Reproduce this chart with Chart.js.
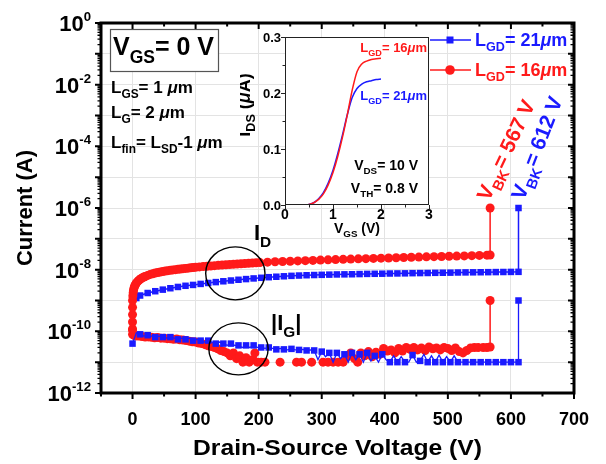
<!doctype html>
<html lang="en">
<head>
<meta charset="utf-8">
<title>Breakdown current vs drain-source voltage</title>
<script src="https://cdn.jsdelivr.net/npm/chart.js/dist/chart.umd.min.js"></script>
<style>
  * { margin: 0; padding: 0; }
  body { background: #fff; overflow: hidden; }
  #wrap { position: relative; width: 606px; height: 464px; }
  #main { position: absolute; left: 0; top: 0; }
  #inset { position: absolute; left: 240px; top: 28px; }
</style>
</head>
<body>
<div id="wrap">
  <canvas id="main" width="606" height="464"></canvas>
  <canvas id="inset" width="200" height="220"></canvas>
</div>
<script>
// ---- data ----
// L_GD = 16 um, drain current
const vdsRedId = [0, 0, 0, 0, 0, 0.5, 1, 1.5, 2, 3, 4, 5, 6, 8, 10, 12, 14, 16, 18, 20,
  24, 28, 32, 36, 40, 44, 48, 52, 56, 60, 64, 68, 72, 76, 80, 84, 88, 92, 96, 100,
  106, 112, 118, 124, 130, 136, 142, 148, 154, 160, 166, 172, 178, 184, 190, 196, 202,
  214, 226, 238, 250, 262, 274, 286, 298, 310, 322, 334, 346, 358, 370, 382, 394, 406, 418, 430, 442,
  454, 466, 478, 490, 502, 514, 526, 538, 550, 562, 567, 567];
const idRed = [1.2e-10, 2e-10, 3.5e-10, 6e-10, 1e-9, 1.4e-9, 1.8e-9, 2.1e-9, 2.4e-9, 2.8e-9, 3.1e-9, 3.4e-9, 3.7e-9, 4.1e-9, 4.5e-9, 4.9e-9, 5.2e-9, 5.5e-9, 5.8e-9, 6.0e-9,
  6.5e-9, 7.0e-9, 7.4e-9, 7.8e-9, 8.1e-9, 8.4e-9, 8.7e-9, 9.0e-9, 9.3e-9, 9.6e-9, 9.8e-9, 1.0e-8, 1.03e-8, 1.05e-8, 1.08e-8, 1.1e-8, 1.12e-8, 1.15e-8, 1.17e-8, 1.2e-8,
  1.23e-8, 1.26e-8, 1.29e-8, 1.32e-8, 1.35e-8, 1.38e-8, 1.41e-8, 1.44e-8, 1.47e-8, 1.5e-8, 1.53e-8, 1.56e-8, 1.59e-8, 1.62e-8, 1.65e-8, 1.68e-8, 1.7e-8,
  1.75e-8, 1.8e-8, 1.84e-8, 1.88e-8, 1.92e-8, 1.96e-8, 2.0e-8, 2.04e-8, 2.08e-8, 2.12e-8, 2.16e-8, 2.2e-8, 2.24e-8, 2.28e-8, 2.32e-8, 2.36e-8, 2.4e-8, 2.44e-8, 2.48e-8, 2.52e-8,
  2.56e-8, 2.6e-8, 2.64e-8, 2.68e-8, 2.72e-8, 2.76e-8, 2.8e-8, 2.85e-8, 2.9e-8, 2.95e-8, 3.0e-8, 1e-6];

// L_GD = 16 um, gate leakage (null = not shown on log axis)
const vdsRedIg = [0, 0, 2, 5, 10, 15, 20, 25, 30, 35,
  40, 45, 50, 55, 60, 65, 70, 75, 80, 85,
  90, 95, 100, 105, 110, 115, 120, 125, 130, 135,
  140, 145, 150, 155, 160, 165, 170, 175, 180, 185,
  190, 194, 198, 204, 210, 216, 234, 240, 260, 268,
  274, 284, 290, 302, 310, 318, 326, 334, 340, 346,
  352, 357, 362, 368, 374, 380, 386, 392, 398, 404,
  410, 416, 422, 428, 434, 440, 446, 452, 458, 464,
  470, 476, 482, 488, 494, 500, 506, 512, 518, 524,
  530, 536, 542, 548, 556, 562, 567, 567];
const igRed = [1.1e-10, 8e-11, 7.5e-11, 7e-11, 7e-11, 6.8e-11, 6.5e-11, 6.6e-11, 6.4e-11, 6.2e-11,
  6.3e-11, 6e-11, 6e-11, 5.8e-11, 5.7e-11, 5.5e-11, 5.6e-11, 5.3e-11, 5.2e-11, 5e-11,
  4.8e-11, 4.6e-11, 4.5e-11, 4.2e-11, 4e-11, 3.7e-11, 3.4e-11, 3.2e-11, 3e-11, 2.7e-11,
  2.4e-11, 2.2e-11, 2e-11, 1.6e-11, 2e-11, 1.3e-11, 1.6e-11, 1e-11, 1.4e-11, 1e-11,
  1.2e-11, 2e-11, 1e-11, 1e-11, 1e-11, null, 1e-11, null, 1e-11, 1e-11,
  null, 1e-11, null, 1e-11, 1e-11, 1e-11, 1e-11, 1e-11, 1.5e-11, 2e-11,
  1.3e-11, 1e-11, 2e-11, 1.6e-11, 2.2e-11, 1.5e-11, 2.1e-11, 1.8e-11, 2.8e-11, 2.3e-11,
  2.5e-11, 2e-11, 2.8e-11, 2.3e-11, 3e-11, 2.6e-11, 3e-11, 2.5e-11, 2.9e-11, 2.4e-11,
  3.1e-11, 2.7e-11, 2.9e-11, 2.5e-11, 3e-11, 2.8e-11, 2.4e-11, 2.9e-11, 2.2e-11, 2e-11,
  2.4e-11, 2.9e-11, 3e-11, 3e-11, 3e-11, 3e-11, 3.1e-11, 1e-9];

// L_GD = 21 um, drain current
const vdsBlueId = [6, 12, 24, 36, 48, 60, 72, 84, 96, 108,
  120, 132, 144, 156, 168, 180, 192, 204, 216, 228,
  240, 252, 264, 276, 288, 300, 312, 324, 336, 348,
  360, 372, 384, 396, 408, 420, 432, 444, 456, 468,
  480, 492, 504, 516, 528, 540, 552, 564, 576, 588,
  600, 612, 612];
const idBlue = [1.2e-9, 1.45e-9, 1.75e-9, 2.0e-9, 2.25e-9, 2.5e-9, 2.75e-9, 3.0e-9, 3.2e-9, 3.45e-9,
  3.7e-9, 3.95e-9, 4.2e-9, 4.45e-9, 4.7e-9, 4.95e-9, 5.2e-9, 5.45e-9, 5.7e-9, 5.9e-9,
  6.1e-9, 6.3e-9, 6.45e-9, 6.6e-9, 6.7e-9, 6.8e-9, 6.9e-9, 7.0e-9, 7.05e-9, 7.1e-9,
  7.2e-9, 7.3e-9, 7.35e-9, 7.4e-9, 7.5e-9, 7.55e-9, 7.6e-9, 7.7e-9, 7.75e-9, 7.8e-9,
  7.9e-9, 7.95e-9, 8.0e-9, 8.1e-9, 8.15e-9, 8.2e-9, 8.25e-9, 8.3e-9, 8.35e-9, 8.4e-9,
  8.45e-9, 8.5e-9, 1e-6];

// L_GD = 21 um, gate leakage
const vdsBlueIg = [0, 6, 12, 18, 24, 30, 36, 42, 48, 54, 60, 66, 72, 78, 84, 90, 96, 102, 108, 114,
  120, 126, 132, 138, 144, 150, 156, 162, 168, 174, 180, 186, 192, 198, 204, 210, 216, 222, 228, 234,
  240, 246, 252, 258, 264, 270, 276, 282, 288, 294, 300, 306, 312, 318, 324, 330, 336, 342, 348, 354,
  360, 366, 372, 378, 384, 390, 396, 402, 408, 414, 420, 426, 432, 438, 444, 450, 456, 462, 468, 474,
  480, 486, 492, 498, 504, 510, 516, 522, 528, 534, 540, 546, 552, 558, 564, 570, 576, 582, 588, 594,
  600, 606, 612, 612];
const igBlue = [4e-11, 9e-11, 8e-11, 7e-11, 7.5e-11, 7e-11, 6.5e-11, 7e-11, 6.5e-11, 6e-11, 6.5e-11, 6e-11, 5.5e-11, 6e-11, 5.5e-11, 6e-11, 5e-11, 5.5e-11, 5e-11, 4.5e-11,
  5e-11, 4.5e-11, 4e-11, 4.5e-11, 4e-11, 3.5e-11, 4e-11, 3.5e-11, 3.5e-11, 3e-11, 3.5e-11, 3e-11, 3.5e-11, 3e-11, 3e-11, 2.8e-11, 3e-11, 2.8e-11, 2.6e-11, 2.8e-11,
  2.6e-11, 2.5e-11, 2.7e-11, 2.5e-11, 2.5e-11, 2.6e-11, 2.4e-11, 2.5e-11, 2.4e-11, 1.2e-11, 2.2e-11, 1.5e-11, 2e-11, 1e-11, 2e-11, 1.3e-11, 1.8e-11, 1e-11, 2e-11, 1.2e-11,
  1.8e-11, 1e-11, 2e-11, 1.1e-11, 1.6e-11, 1e-11, 1.8e-11, 1.2e-11, 1e-11, 1.6e-11, 1e-11, 1.5e-11, 1e-11, 1e-11, 1.7e-11, 1e-11, 1.1e-11, 1.8e-11, 1e-11, 1.6e-11,
  1e-11, 1.7e-11, 1e-11, 1.5e-11, 1e-11, 1.6e-11, 1e-11, 1e-11, 1e-11, 1e-11, 1e-11, 1e-11, 1e-11, 1e-11, 1e-11, 1e-11, 1e-11, 1e-11, 1e-11, 1e-11,
  1e-11, 1e-11, 1e-11, 1e-9];

// inset: transfer curves at V_DS = 10 V
const vgs = [0, 0.1, 0.2, 0.3, 0.4, 0.5, 0.6, 0.7, 0.8, 0.9, 1.0, 1.1, 1.2, 1.3, 1.4, 1.5, 1.6, 1.7, 1.8, 1.9, 2.0];
const idsRed = [0, 0, 0, 0, 0, 0.001, 0.004, 0.01, 0.02, 0.036, 0.058, 0.087, 0.122, 0.162, 0.205, 0.238, 0.252, 0.257, 0.26, 0.261, 0.262];
const idsBlue = [0, 0, 0, 0, 0, 0.001, 0.004, 0.011, 0.022, 0.039, 0.062, 0.092, 0.126, 0.162, 0.192, 0.208, 0.216, 0.22, 0.222, 0.224, 0.225];

// axis ticks
const xMajor = [0, 100, 200, 300, 400, 500, 600, 700];
const xMinor = [-50, 50, 150, 250, 350, 450, 550, 650];
const yExp = [0, -1, -2, -3, -4, -5, -6, -7, -8, -9, -10, -11, -12];
const yLabelExp = [0, -2, -4, -6, -8, -10, -12];
const insetX = [0, 1, 2, 3];
const insetY = [0, 0.1, 0.2, 0.3];

const RED = '#ff1a1a';
const BLUE = '#1a1aff';
const GRID = '#e3e3e3';
const FONT = '"Liberation Sans", Arial, Helvetica, sans-serif';
Chart.defaults.font.family = FONT;

const pts = (xs, ys) => xs.map((x, i) => ({ x: x, y: ys[i] }));

// text with sub/superscripts: parts = [[text, kind]], kind: n | sub | sup | it
function partFont(kind, size, supRatio) {
  let s = size;
  if (kind === 'sub') s = size * 0.7;
  if (kind === 'sup') s = size * (supRatio || 0.62);
  return (kind === 'it' ? 'italic ' : '') + 'bold ' + s.toFixed(1) + 'px ' + FONT;
}
function richWidth(ctx, parts, size, supRatio) {
  let w = 0;
  parts.forEach(p => { ctx.font = partFont(p[1], size, supRatio); w += ctx.measureText(p[0]).width; });
  return w;
}
function drawRich(ctx, x, y, parts, size, color, align, supRatio) {
  const w = richWidth(ctx, parts, size, supRatio);
  let cx = align === 'center' ? x - w / 2 : (align === 'right' ? x - w : x);
  ctx.save();
  ctx.fillStyle = color;
  ctx.textAlign = 'left';
  ctx.textBaseline = 'alphabetic';
  parts.forEach(p => {
    ctx.font = partFont(p[1], size, supRatio);
    const dy = p[1] === 'sub' ? size * 0.3 : (p[1] === 'sup' ? -size * 0.45 : 0);
    ctx.fillText(p[0], cx, y + dy);
    cx += ctx.measureText(p[0]).width;
  });
  ctx.restore();
}

const mainDecor = {
  id: 'mainDecor',
  afterDraw(chart) {
    const { ctx, chartArea: a } = chart;
    const sx = chart.scales.x, sy = chart.scales.y;
    ctx.save();

    // frame and ticks
    ctx.strokeStyle = '#000';
    ctx.lineWidth = 3;
    ctx.strokeRect(a.left, a.top, a.right - a.left, a.bottom - a.top);
    ctx.lineWidth = 2;
    ctx.beginPath();
    xMajor.forEach(v => {
      const p = sx.getPixelForValue(v);
      ctx.moveTo(p, a.bottom); ctx.lineTo(p, a.bottom + 6);
      ctx.moveTo(p, a.top); ctx.lineTo(p, a.top + 6);
    });
    xMinor.forEach(v => {
      const p = sx.getPixelForValue(v);
      ctx.moveTo(p, a.bottom); ctx.lineTo(p, a.bottom + 3.5);
      ctx.moveTo(p, a.top); ctx.lineTo(p, a.top + 3.5);
    });
    yExp.forEach(e => {
      const p = sy.getPixelForValue(Math.pow(10, e));
      ctx.moveTo(a.left, p); ctx.lineTo(a.left - 6, p);
      ctx.moveTo(a.right, p); ctx.lineTo(a.right - 6, p);
    });
    ctx.stroke();
    ctx.lineWidth = 1.3;
    ctx.beginPath();
    yExp.forEach(e => {
      if (e === 0) return;
      for (let m = 2; m <= 9; m++) {
        const p = sy.getPixelForValue(m * Math.pow(10, e));
        ctx.moveTo(a.left, p); ctx.lineTo(a.left - 3.5, p);
        ctx.moveTo(a.right, p); ctx.lineTo(a.right - 3.5, p);
      }
    });
    ctx.stroke();

    // tick labels
    yLabelExp.forEach(e => {
      const p = sy.getPixelForValue(Math.pow(10, e));
      drawRich(ctx, 91, p + 8, [['10', 'n'], [String(e), 'sup']], 22, '#000', 'right', 0.6);
    });
    ctx.fillStyle = '#000';
    ctx.font = 'bold 18px ' + FONT;
    ctx.textAlign = 'center';
    ctx.textBaseline = 'alphabetic';
    xMajor.forEach(v => ctx.fillText(String(v), sx.getPixelForValue(v), 425));

    // axis titles
    ctx.save();
    ctx.font = 'bold 22px ' + FONT;
    const tw = ctx.measureText('Drain-Source Voltage (V)').width;
    ctx.translate((a.left + a.right) / 2, 455);
    ctx.scale(289 / tw, 1);
    ctx.fillText('Drain-Source Voltage (V)', 0, 0);
    ctx.restore();
    ctx.save();
    ctx.translate(32, (a.top + a.bottom) / 2);
    ctx.rotate(-Math.PI / 2);
    ctx.font = 'bold 22px ' + FONT;
    ctx.textAlign = 'center';
    ctx.fillText('Current (A)', 0, 0);
    ctx.restore();

    // V_GS box and device notes
    ctx.fillStyle = '#fff';
    ctx.fillRect(110, 29, 108, 42);
    ctx.strokeStyle = '#555';
    ctx.lineWidth = 1.2;
    ctx.strokeRect(110.5, 29.5, 108, 42);
    drawRich(ctx, 113, 55, [['V', 'n'], ['GS', 'sub'], ['= 0 V', 'n']], 25, '#000', 'left');
    drawRich(ctx, 111, 93, [['L', 'n'], ['GS', 'sub'], ['= 1 ', 'n'], ['\u03bc', 'it'], ['m', 'n']], 17, '#000', 'left');
    drawRich(ctx, 111, 118, [['L', 'n'], ['G', 'sub'], ['= 2 ', 'n'], ['\u03bc', 'it'], ['m', 'n']], 17, '#000', 'left');
    drawRich(ctx, 111, 148, [['L', 'n'], ['fin', 'sub'], ['= L', 'n'], ['SD', 'sub'], ['-1 ', 'n'], ['\u03bc', 'it'], ['m', 'n']], 17, '#000', 'left');

    // I_D / |I_G| labels and ellipses
    drawRich(ctx, 254, 240, [['I', 'n'], ['D', 'sub']], 22, '#000', 'left');
    drawRich(ctx, 271, 330, [['|I', 'n'], ['G', 'sub'], ['|', 'n']], 22, '#000', 'left');
    const ellipse = (vc, ic, dv, ry) => {
      const cx = sx.getPixelForValue(vc), cy = sy.getPixelForValue(ic);
      const rx = sx.getPixelForValue(vc + dv) - cx;
      ctx.beginPath();
      ctx.ellipse(cx, cy, rx, ry, 0, 0, Math.PI * 2);
      ctx.stroke();
    };
    ctx.strokeStyle = '#000';
    ctx.lineWidth = 1.4;
    ellipse(163, 7.6e-9, 47, 26.5);
    ellipse(168, 2.7e-11, 47, 26);

    // breakdown labels
    ctx.save();
    ctx.translate(489, 202);
    ctx.rotate(-64.5 * Math.PI / 180);
    drawRich(ctx, 0, 0, [['V', 'n'], ['BK', 'sub'], ['= 567 V', 'n']], 21, RED, 'left');
    ctx.restore();
    ctx.save();
    ctx.translate(524, 201);
    ctx.rotate(-69 * Math.PI / 180);
    drawRich(ctx, 0, 0, [['V', 'n'], ['BK', 'sub'], ['= 612 V', 'n']], 21, BLUE, 'left');
    ctx.restore();

    // legend
    const legendRow = (y, color, style, parts) => {
      ctx.strokeStyle = color;
      ctx.fillStyle = color;
      ctx.lineWidth = 1.5;
      ctx.beginPath();
      ctx.moveTo(430, y); ctx.lineTo(471, y);
      ctx.stroke();
      if (style === 'rect') ctx.fillRect(446.5, y - 3.5, 7, 7);
      else { ctx.beginPath(); ctx.arc(450, y, 4.8, 0, Math.PI * 2); ctx.fill(); }
      drawRich(ctx, 475, y + 6, parts, 18, color, 'left');
    };
    legendRow(40, BLUE, 'rect', [['L', 'n'], ['GD', 'sub'], ['= 21', 'n'], ['\u03bc', 'it'], ['m', 'n']]);
    legendRow(70, RED, 'circle', [['L', 'n'], ['GD', 'sub'], ['= 16', 'n'], ['\u03bc', 'it'], ['m', 'n']]);

    ctx.restore();
  }
};

new Chart(document.getElementById('main'), {
  type: 'line',
  data: {
    datasets: [
      {
        label: 'I_D, L_GD = 16 um', data: pts(vdsRedId, idRed),
        borderColor: RED, backgroundColor: RED, borderWidth: 1.5,
        pointStyle: 'circle', pointRadius: 4.5, pointBorderWidth: 0
      },
      {
        label: 'I_D, L_GD = 21 um', data: pts(vdsBlueId, idBlue),
        borderColor: BLUE, backgroundColor: BLUE, borderWidth: 1.5,
        pointStyle: 'rect', pointRadius: 4.6, pointBorderWidth: 0
      },
      {
        label: 'I_G, L_GD = 21 um', data: pts(vdsBlueIg, igBlue),
        borderColor: BLUE, backgroundColor: BLUE, borderWidth: 1.3,
        pointStyle: 'rect', pointBorderWidth: 0,
        pointRadius: c => (c.dataIndex % 2 === 0 || c.dataIndex === igBlue.length - 1) ? 4.6 : 0
      },
      {
        label: 'I_G, L_GD = 16 um', data: pts(vdsRedIg, igRed),
        borderColor: RED, backgroundColor: RED, borderWidth: 1.5,
        pointStyle: 'circle', pointRadius: 4.5, pointBorderWidth: 0, spanGaps: false
      }
    ]
  },
  options: {
    responsive: false,
    animation: false,
    events: [],
    layout: { padding: { left: 101, right: 32, top: 23, bottom: 71 } },
    scales: {
      x: {
        type: 'linear', min: -50, max: 700,
        afterBuildTicks: s => { s.ticks = xMajor.map(v => ({ value: v })); },
        ticks: { display: false },
        grid: { color: GRID, lineWidth: 1, drawTicks: false },
        border: { display: false }
      },
      y: {
        type: 'logarithmic', min: 1e-12, max: 1,
        afterBuildTicks: s => { s.ticks = yExp.map(e => ({ value: Math.pow(10, e) })); },
        ticks: { display: false },
        grid: { color: GRID, lineWidth: 1, drawTicks: false },
        border: { display: false }
      }
    },
    plugins: { legend: { display: false }, tooltip: { enabled: false } }
  },
  plugins: [mainDecor]
});

// ---- inset ----
const OX = 240, OY = 28;
const insetDecor = {
  id: 'insetDecor',
  beforeDraw(chart) {
    const { ctx, chartArea: a } = chart;
    ctx.save();
    ctx.fillStyle = '#fff';
    ctx.fillRect(a.left, a.top, a.right - a.left, a.bottom - a.top);
    ctx.restore();
  },
  afterDraw(chart) {
    const { ctx, chartArea: a } = chart;
    const sx = chart.scales.x, sy = chart.scales.y;
    ctx.save();
    ctx.strokeStyle = '#222';
    ctx.lineWidth = 1;
    ctx.strokeRect(a.left + 0.5, a.top + 0.5, a.right - a.left - 1, a.bottom - a.top - 1);
    ctx.beginPath();
    insetY.forEach(v => {
      const p = Math.round(sy.getPixelForValue(v)) + 0.5;
      ctx.moveTo(a.left, p); ctx.lineTo(a.left - 4, p);
      const q = Math.round(sy.getPixelForValue(v + 0.05)) + 0.5;
      if (v < 0.3) { ctx.moveTo(a.left, q); ctx.lineTo(a.left - 2.5, q); }
    });
    insetX.forEach(v => {
      const p = Math.round(sx.getPixelForValue(v)) + 0.5;
      ctx.moveTo(p, a.bottom); ctx.lineTo(p, a.bottom + 4);
      const q = Math.round(sx.getPixelForValue(v + 0.5)) + 0.5;
      if (v < 3) { ctx.moveTo(q, a.bottom); ctx.lineTo(q, a.bottom + 2.5); }
    });
    ctx.stroke();

    ctx.fillStyle = '#000';
    ctx.font = 'bold 13px ' + FONT;
    ctx.textAlign = 'right';
    insetY.forEach(v => ctx.fillText(v.toFixed(1), 281 - OX, sy.getPixelForValue(v) + 4.5));
    ctx.textAlign = 'center';
    ctx.font = 'bold 14px ' + FONT;
    insetX.forEach(v => ctx.fillText(String(v), sx.getPixelForValue(v), 219 - OY));

    drawRich(ctx, (a.left + a.right) / 2, 233 - OY, [['V', 'n'], ['GS', 'sub'], [' (V)', 'n']], 14, '#000', 'center');
    ctx.save();
    ctx.translate(250 - OX, 105 - OY);
    ctx.rotate(-Math.PI / 2);
    drawRich(ctx, 0, 0, [['I', 'n'], ['DS', 'sub'], [' (', 'n'], ['\u03bc', 'it'], ['A)', 'n']], 18, '#000', 'center');
    ctx.restore();

    drawRich(ctx, 427 - OX, 52 - OY, [['L', 'n'], ['GD', 'sub'], ['= 16', 'n'], ['\u03bc', 'it'], ['m', 'n']], 13, RED, 'right');
    drawRich(ctx, 427 - OX, 100 - OY, [['L', 'n'], ['GD', 'sub'], ['= 21', 'n'], ['\u03bc', 'it'], ['m', 'n']], 13, BLUE, 'right');
    drawRich(ctx, 418 - OX, 170 - OY, [['V', 'n'], ['DS', 'sub'], ['= 10 V', 'n']], 14, '#000', 'right');
    drawRich(ctx, 418 - OX, 193 - OY, [['V', 'n'], ['TH', 'sub'], ['= 0.8 V', 'n']], 14, '#000', 'right');
    ctx.restore();
  }
};

new Chart(document.getElementById('inset'), {
  type: 'line',
  data: {
    datasets: [
      { label: 'L_GD = 16 um', data: pts(vgs, idsRed), borderColor: RED, borderWidth: 1.5, pointRadius: 0, cubicInterpolationMode: 'monotone' },
      { label: 'L_GD = 21 um', data: pts(vgs, idsBlue), borderColor: BLUE, borderWidth: 1.5, pointRadius: 0, cubicInterpolationMode: 'monotone' }
    ]
  },
  options: {
    responsive: false,
    animation: false,
    events: [],
    layout: { padding: { left: 45, right: 11, top: 9, bottom: 43 } },
    scales: {
      x: { type: 'linear', min: 0, max: 3, ticks: { display: false }, grid: { display: false, drawTicks: false }, border: { display: false } },
      y: { type: 'linear', min: 0, max: 0.3, ticks: { display: false }, grid: { display: false, drawTicks: false }, border: { display: false } }
    },
    plugins: { legend: { display: false }, tooltip: { enabled: false } }
  },
  plugins: [insetDecor]
});
</script>
</body>
</html>
